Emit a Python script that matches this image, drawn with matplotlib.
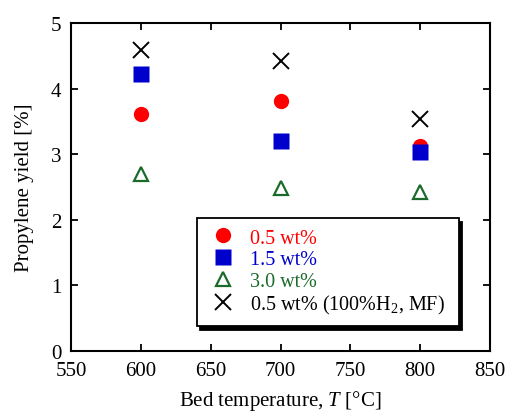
import matplotlib
matplotlib.use('Agg')
from matplotlib import pyplot as plt

temps = [600, 700, 800]
yield_05 = [3.61, 3.81, 3.12]
yield_15 = [4.22, 3.20, 3.04]
yield_30 = [2.70, 2.48, 2.43]
yield_05_h2 = [4.59, 4.42, 3.54]

labels = ['0.5 wt%', '1.5 wt%', '3.0 wt%', '0.5 wt% (100%H$_2$, MF)']
colors = ['#ff0000', '#0000cc', '#1a6b2a', 'black']

plt.rcParams['font.family'] = ['Liberation Serif', 'DejaVu Serif']
plt.rcParams['mathtext.fontset'] = 'custom'
plt.rcParams['mathtext.rm'] = 'Liberation Serif'
plt.rcParams['mathtext.it'] = 'Liberation Serif:italic'

fig = plt.figure(figsize=(5.08, 4.14), dpi=100)
ax = fig.add_axes([71 / 508, 1 - 352 / 414, 419 / 508, 328 / 414])

ax.plot(temps, yield_05, 'o', color=colors[0], ms=11, mec='none', label=labels[0])
ax.plot(temps, yield_15, 's', color=colors[1], ms=11, mec='none', label=labels[1])
ax.plot(temps, yield_30, '^', color=colors[2], ms=10, mfc='none', mew=1.6, label=labels[2])
ax.plot(temps, yield_05_h2, 'x', color=colors[3], ms=11, mew=1.4, label=labels[3])

ax.set_xlim(550, 850)
ax.set_ylim(0, 5)
ax.set_xticks([550, 600, 650, 700, 750, 800, 850])
ax.set_yticks([0, 1, 2, 3, 4, 5])
ax.tick_params(direction='in', length=5, width=1.3, top=True, right=True, labelsize=15, pad=7)
for s in ax.spines.values():
    s.set_linewidth(1.5)

ax.set_xlabel('Bed temperature, $T$ [°C]', fontsize=15, labelpad=6)
ax.set_ylabel('Propylene yield [%]', fontsize=15, labelpad=12)

leg = ax.legend(loc='lower left', bbox_to_anchor=(0.30, 0.076, 0.626, 0.34), mode='expand',
                fancybox=False, frameon=True, edgecolor='black', framealpha=1,
                shadow={'ox': 2.5, 'oy': -2.5, 'facecolor': 'black', 'edgecolor': 'black', 'alpha': 1},
                fontsize=14.5, handlelength=1.6, handletextpad=0.55, labelspacing=0.12,
                borderpad=0.5, borderaxespad=0)
leg.get_frame().set_linewidth(1.3)
for t, c in zip(leg.get_texts(), colors):
    t.set_color(c)

fig.savefig('out.png', dpi=100)
